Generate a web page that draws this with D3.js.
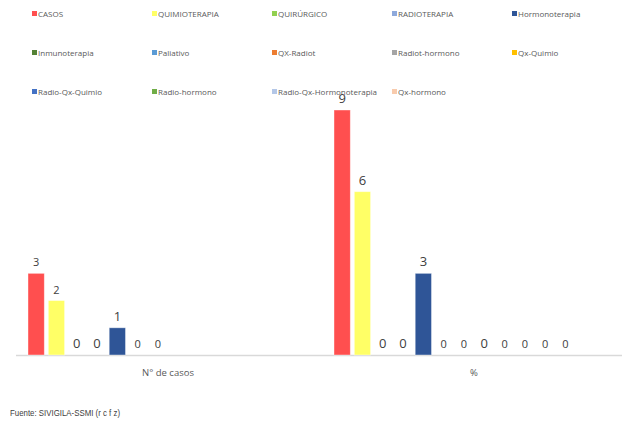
<!DOCTYPE html>
<html><head><meta charset="utf-8">
<script src="https://cdn.jsdelivr.net/npm/d3@7"></script>
<style>body{margin:0;background:#fff}svg{display:block}</style>
</head><body>
<script>
const categories = ["N° de casos", "%"];
const seriesNames = ["CASOS","QUIMIOTERAPIA","QUIRÚRGICO","RADIOTERAPIA","Hormonoterapia",
  "Inmunoterapia","Paliativo","QX-Radiot","Radiot-hormono","Qx-Quimio",
  "Radio-Qx-Quimio","Radio-hormono","Radio-Qx-Hormonoterapia","Qx-hormono"];
// values per category, null = no value
const valuesCasos = [3,2,0,0,1,0,0,null,null,null,null,null,null,null];
const valuesPct   = [9,6,0,0,3,0,0,0,0,0,0,0,null,null];
const colors = ["#FF4F4F","#FFFF66","#92D050","#8EA9DB","#2F5597","#548235","#5B9BD5",
  "#ED7D31","#A5A5A5","#FFC000","#4472C4","#70AD47","#B4C7E7","#F8CBAD"];
const sourceText = "Fuente: SIVIGILA-SSMI (r c f z)";

const W = 623, H = 421;
const svg = d3.select("body").append("svg").attr("width", W).attr("height", H);
const base = 355;
const x0 = d3.scaleBand().domain(categories).range([15, 627]).paddingInner(0).paddingOuter(0);
const x1 = d3.scaleBand().domain(d3.range(seriesNames.length)).range([11, 11 + 20.3*14]);
const y = d3.scaleLinear().domain([0, 9]).range([base, 110]);
const data = [valuesCasos, valuesPct];

// axis line
svg.append("line").attr("x1", 16).attr("x2", 622).attr("y1", base + 0.5).attr("y2", base + 0.5)
  .attr("stroke", "#d9d9d9").attr("stroke-width", 1.5);

const big = (ci, si) => ci === 0 ? [2,3,4].includes(si) : [0,1,2,3,4,7].includes(si);

categories.forEach((c, ci) => {
  const g = svg.append("g").attr("transform", `translate(${x0(c)},0)`);
  const vals = data[ci].map((v, i) => ({v, i})).filter(d => d.v !== null);
  g.selectAll("rect").data(vals.filter(d => d.v > 0)).join("rect")
    .attr("x", d => x1(d.i) + 2).attr("width", x1.bandwidth() - 4)
    .attr("y", d => y(d.v)).attr("height", d => base - y(d.v))
    .attr("fill", d => colors[d.i]).attr("stroke", "#ffffff").attr("stroke-opacity", 0.5).attr("stroke-width", 0.8);
  g.selectAll("text").data(vals).join("text")
    .attr("x", d => x1(d.i) + x1.bandwidth()/2)
    .attr("y", d => y(d.v) - 7)
    .attr("text-anchor", "middle")
    .attr("font-family", "'Open Sans', 'Liberation Sans', sans-serif")
    .attr("font-size", d => big(ci, d.i) ? 13 : 11)
    .attr("fill", "#404040")
    .text(d => d.v);
  svg.append("text").attr("x", x0(c) + x0.bandwidth()/2 - 0).attr("y", 376)
    .attr("text-anchor", "middle").attr("font-family", "'Open Sans', 'Liberation Sans', sans-serif")
    .attr("font-size", 9.5).attr("fill", "#595959").text(c);
});

// legend
const lg = svg.append("g");
seriesNames.forEach((n, i) => {
  const col = i % 5, row = Math.floor(i / 5);
  const lx = 32 + col * 120, ly = 14 + row * 39;
  lg.append("rect").attr("x", lx).attr("y", ly - 3).attr("width", 5).attr("height", 5).attr("fill", colors[i]);
  lg.append("text").attr("x", lx + 6).attr("y", ly + 2.5)
    .attr("font-family", "'Open Sans', 'Liberation Sans', sans-serif").attr("font-size", 8)
    .attr("fill", "#595959").text(n);
});

svg.append("text").attr("x", 10).attr("y", 416)
  .attr("font-family", "'Liberation Sans Narrow', 'Liberation Sans', sans-serif")
  .attr("font-size", 8.5).attr("fill", "#404040").attr("textLength", 110).attr("lengthAdjust", "spacingAndGlyphs")
  .text(sourceText);
</script>
</body></html>
